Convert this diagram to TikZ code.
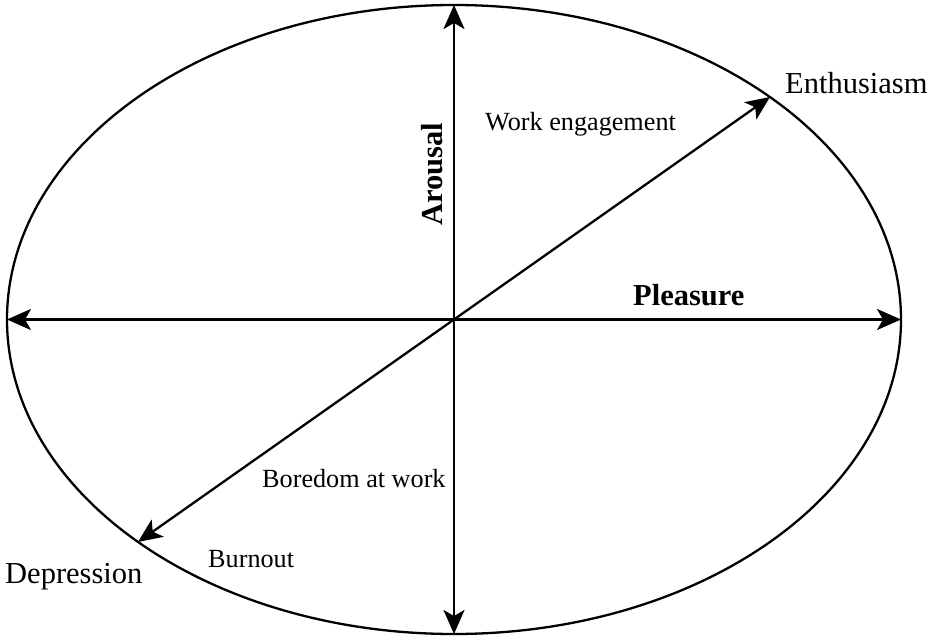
\documentclass[tikz,border=0pt]{standalone}
\usepackage{fontspec}
\setmainfont{Liberation Serif}
\usetikzlibrary{arrows.meta}
\begin{document}
\begin{tikzpicture}[x=1pt,y=-1pt,
  tip/.style={Stealth[length=24pt,width=21pt,inset=6pt]},
  axis/.style={line width=2.3pt,{Stealth[length=24pt,width=21pt,inset=6pt]}-{Stealth[length=24pt,width=21pt,inset=6pt]}},
  onearrow/.style={line width=2.3pt,-{Stealth[length=24pt,width=21pt,inset=6pt]}},
  big/.style={font=\fontsize{30.5}{33}\selectfont, inner sep=0pt},
  small/.style={font=\fontsize{26.2}{29}\selectfont, inner sep=0pt}]
\useasboundingbox (0,0) rectangle (932,640);
\coordinate (c) at (454,319.5);
\draw[line width=2.3pt] (c) ellipse [x radius=447, y radius=314.5];
\coordinate (L) at (7,319.5);
\coordinate (R) at (901,319.5);
\coordinate (T) at (454,5);
\coordinate (B) at (454,634);
\coordinate (NE) at (770,97);
\coordinate (SW) at (138,542);
\draw[axis] (L) -- (R);
\draw[axis] (B) -- (T);
\draw[onearrow] (c) -- (NE);
\draw[onearrow] (c) -- (SW);
\node[big, anchor=base west] (enth) at (785,93) {Enthusiasm};
\node[big, anchor=base west] (dep) at (5,583) {Depression};
\node[small, anchor=base west] (burn) at (208,567) {Burnout};
\node[small, anchor=base west] (bore) at (262,487) {Boredom at work};
\node[small, anchor=base west] (work) at (485,130) {Work engagement};
\node[big, anchor=base west, font=\fontsize{30.5}{33}\selectfont\bfseries] (pleas) at (633,305) {Pleasure};
\node[big, anchor=base west, rotate=90, font=\fontsize{30.5}{33}\selectfont\bfseries] (arou) at (442,226) {Arousal};
\end{tikzpicture}
\end{document}
